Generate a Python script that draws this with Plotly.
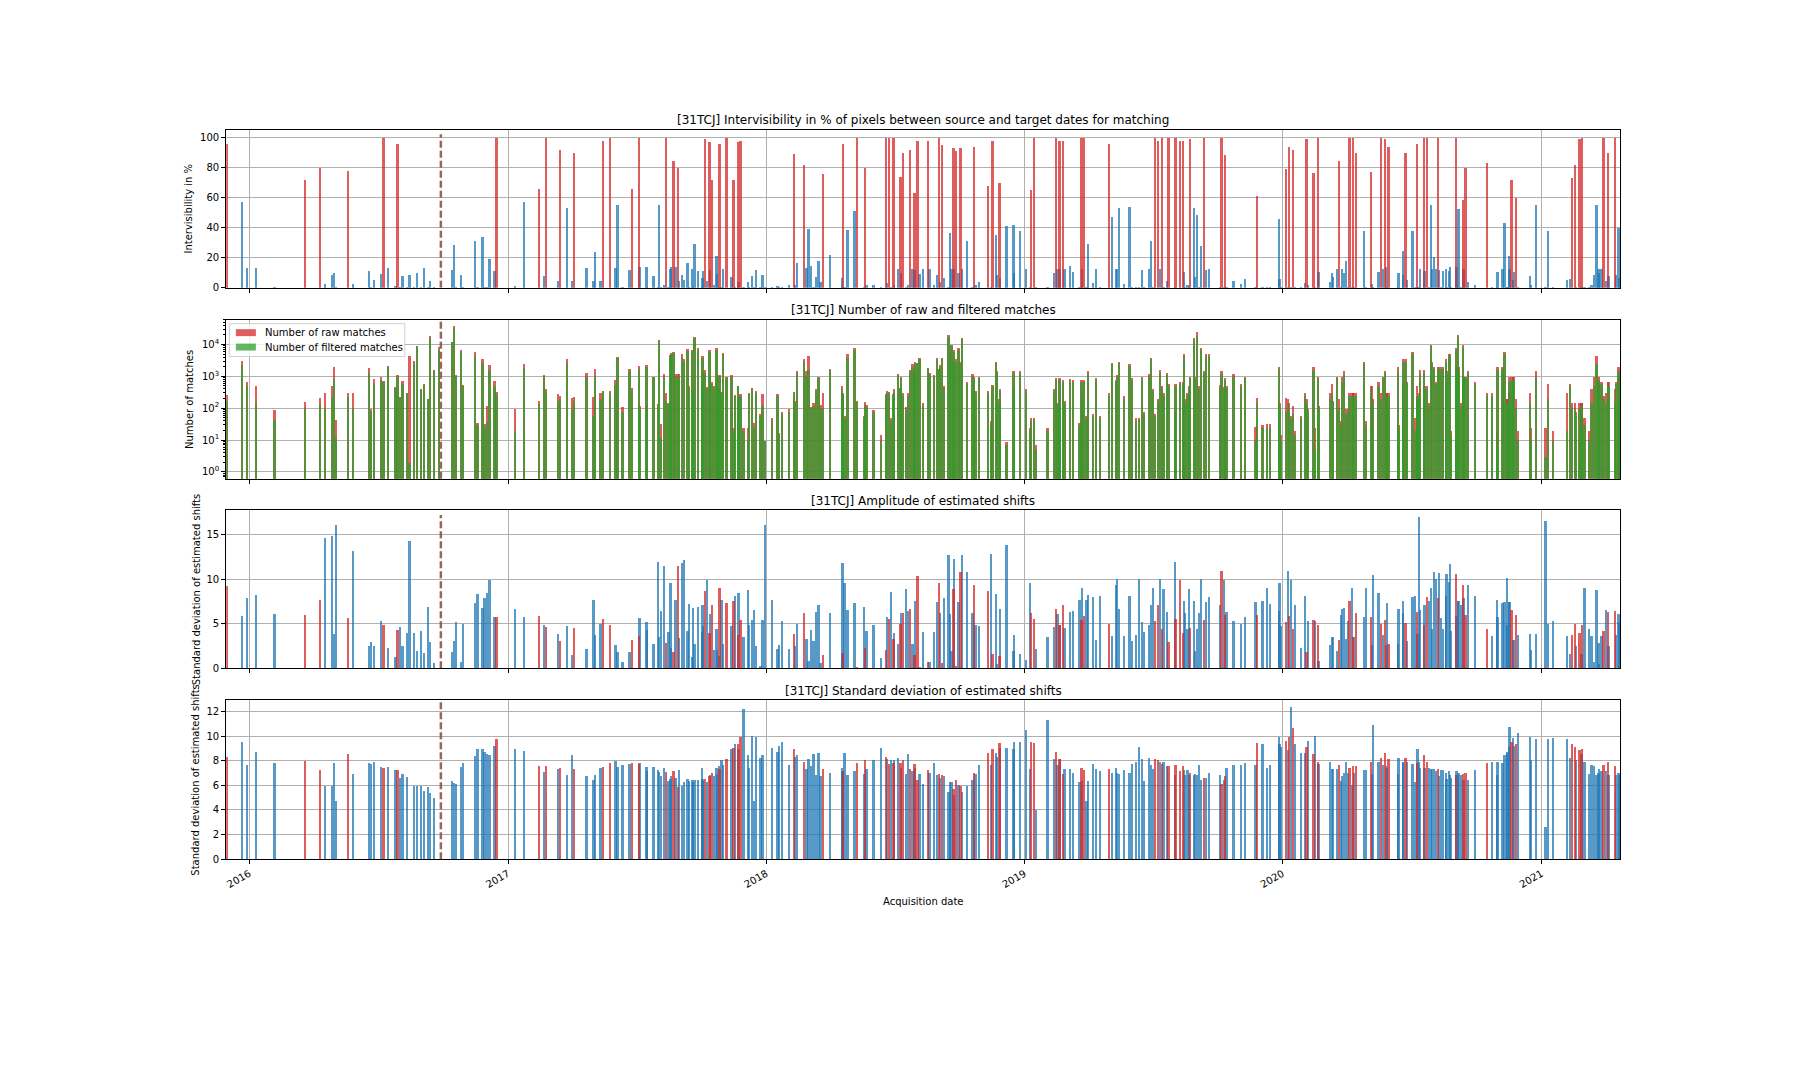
import plotly.graph_objects as go

tile = "31TCJ"
reference_date = "2016-09-28"
year_ticks = ["2016-01-01", "2017-01-01", "2018-01-01", "2019-01-01", "2020-01-01", "2021-01-01"]
year_labels = ["2016", "2017", "2018", "2019", "2020", "2021"]

dates = [
"2015-12-01","2015-12-22","2015-12-29","2016-01-11","2016-02-06","2016-03-20","2016-04-10","2016-04-17","2016-04-27","2016-04-30",
"2016-05-03","2016-05-20","2016-05-27","2016-06-19","2016-06-22","2016-06-26","2016-07-06","2016-07-09","2016-07-16","2016-07-26",
"2016-07-29","2016-08-01","2016-08-05","2016-08-11","2016-08-15","2016-08-21","2016-08-25","2016-08-31","2016-09-04","2016-09-10",
"2016-09-13","2016-09-19","2016-09-26","2016-10-14","2016-10-17","2016-10-20","2016-10-27","2016-10-30","2016-11-16","2016-11-19",
"2016-11-26","2016-11-29","2016-12-03","2016-12-06","2016-12-13","2016-12-16","2017-01-11","2017-01-24","2017-02-14","2017-02-21",
"2017-02-24","2017-03-13","2017-03-16","2017-03-26","2017-04-02","2017-04-05","2017-04-22","2017-05-02","2017-05-04","2017-05-12",
"2017-05-15","2017-05-25","2017-06-02","2017-06-05","2017-06-12","2017-06-22","2017-06-25","2017-07-05","2017-07-06","2017-07-16",
"2017-07-17","2017-07-26","2017-08-01","2017-08-03","2017-08-05","2017-08-10","2017-08-13","2017-08-16","2017-08-19","2017-08-20",
"2017-08-23","2017-08-26","2017-08-29","2017-08-31","2017-09-04","2017-09-07","2017-09-12","2017-09-14","2017-09-18","2017-09-20",
"2017-09-22","2017-09-27","2017-10-02","2017-10-03","2017-10-04","2017-10-07","2017-10-09","2017-10-13","2017-10-14","2017-10-17",
"2017-10-19","2017-10-23","2017-10-24","2017-10-26","2017-10-27","2017-10-30","2017-11-01","2017-11-06","2017-11-13","2017-11-16",
"2017-11-18","2017-11-22","2017-11-23","2017-11-26","2017-11-30","2017-12-06","2017-12-08","2017-12-12","2017-12-15","2017-12-18",
"2017-12-24","2017-12-27","2017-12-30","2018-01-09","2018-01-17","2018-01-19","2018-01-24","2018-02-02","2018-02-10","2018-02-11",
"2018-02-14","2018-02-24","2018-02-27","2018-03-02","2018-03-06","2018-03-09","2018-03-13","2018-03-16","2018-03-19","2018-03-22",
"2018-04-01","2018-04-18","2018-04-19","2018-04-20","2018-04-22","2018-04-26","2018-05-06","2018-05-10","2018-05-19","2018-05-21",
"2018-05-23","2018-06-02","2018-06-13","2018-06-20","2018-06-21","2018-06-24","2018-06-27","2018-06-30","2018-07-01","2018-07-07",
"2018-07-10","2018-07-11","2018-07-14","2018-07-18","2018-07-21","2018-07-24","2018-07-27","2018-07-30","2018-07-31","2018-08-03",
"2018-08-06","2018-08-11","2018-08-18","2018-08-20","2018-08-26","2018-08-31","2018-09-03","2018-09-04","2018-09-07","2018-09-10",
"2018-09-16","2018-09-18","2018-09-20","2018-09-23","2018-09-24","2018-09-27","2018-09-30","2018-10-03","2018-10-05","2018-10-12",
"2018-10-20","2018-10-22","2018-10-24","2018-10-29","2018-11-11","2018-11-15","2018-11-17","2018-11-22","2018-11-24","2018-11-27",
"2018-11-28","2018-12-07","2018-12-17","2018-12-18","2018-12-26","2019-01-03","2019-01-09","2019-01-11","2019-01-15","2019-01-18",
"2019-02-03","2019-02-12","2019-02-15","2019-02-17","2019-02-20","2019-02-21","2019-02-25","2019-02-27","2019-03-07","2019-03-11",
"2019-03-20","2019-03-23","2019-03-24","2019-03-27","2019-03-30","2019-04-01","2019-04-08","2019-04-12","2019-04-18","2019-05-01",
"2019-05-05","2019-05-11","2019-05-12","2019-05-15","2019-05-22","2019-05-30","2019-06-02","2019-06-08","2019-06-12","2019-06-16",
"2019-06-19","2019-06-26","2019-06-29","2019-07-02","2019-07-05","2019-07-09","2019-07-12","2019-07-15","2019-07-17","2019-07-22",
"2019-07-24","2019-08-02","2019-08-03","2019-08-09","2019-08-13","2019-08-15","2019-08-16","2019-08-20","2019-08-22","2019-08-23",
"2019-08-29","2019-08-30","2019-09-02","2019-09-05","2019-09-08","2019-09-12","2019-09-15","2019-09-19","2019-10-05","2019-10-07",
"2019-10-10","2019-10-12","2019-10-14","2019-10-24","2019-11-03","2019-11-09","2019-11-24","2019-11-26","2019-12-04","2019-12-10",
"2019-12-14","2019-12-27","2019-12-28","2019-12-30","2020-01-06","2020-01-09","2020-01-10","2020-01-13","2020-01-16","2020-01-19",
"2020-01-27","2020-02-02","2020-02-04","2020-02-06","2020-02-14","2020-02-16","2020-02-20","2020-02-21","2020-03-08","2020-03-11",
"2020-03-12","2020-03-18","2020-03-21","2020-03-24","2020-03-25","2020-03-28","2020-03-31","2020-04-03","2020-04-05","2020-04-08",
"2020-04-10","2020-04-11","2020-04-14","2020-04-25","2020-04-28","2020-05-05","2020-05-07","2020-05-08","2020-05-16","2020-05-19",
"2020-05-22","2020-05-25","2020-05-26","2020-05-28","2020-05-30","2020-06-12","2020-06-13","2020-06-19","2020-06-20","2020-06-23",
"2020-06-25","2020-07-03","2020-07-06","2020-07-09","2020-07-10","2020-07-12","2020-07-13","2020-07-19","2020-07-20","2020-07-23",
"2020-07-26","2020-07-29","2020-07-30","2020-08-02","2020-08-05","2020-08-08","2020-08-09","2020-08-12","2020-08-15","2020-08-19",
"2020-08-20","2020-08-23","2020-08-25","2020-08-26","2020-09-02","2020-09-03","2020-09-05","2020-09-06","2020-09-09","2020-09-12",
"2020-09-13","2020-09-16","2020-09-19","2020-09-29","2020-10-16","2020-10-23","2020-10-30","2020-10-31","2020-11-07","2020-11-10",
"2020-11-13","2020-11-14","2020-11-16","2020-11-17","2020-11-20","2020-11-22","2020-11-23","2020-11-26","2020-11-29","2020-12-16",
"2020-12-17","2020-12-25","2021-01-07","2021-01-10","2021-01-18","2021-02-06","2021-02-11","2021-02-13","2021-02-18","2021-02-19",
"2021-02-24","2021-02-27","2021-02-28","2021-03-03","2021-03-09","2021-03-13","2021-03-16","2021-03-20","2021-03-23","2021-03-24",
"2021-03-27","2021-03-30","2021-04-02","2021-04-05","2021-04-06","2021-04-15","2021-04-17","2021-04-20","2021-04-21"]

# 1 = pair kept for matching (red), 0 = rejected (blue)
valid = [
1,0,0,0,0,1,1,0,0,0, 0,1,0,0,0,0,0,1,0,0, 1,0,0,0,0,0,0,0,0,0, 0,0,0,0,0,0,0,0,0,0,
0,0,0,0,0,1,0,0,1,0, 1,0,1,0,0,1,0,0,0,0, 1,1,0,0,0,0,1,1,0,0, 0,0,0,0,0,0,1,0,0,0,
1,0,1,0,0,0,0,0,0,0, 0,0,0,0,0,1,0,1,0,1, 0,0,0,0,1,0,0,1,0,1, 0,1,0,1,0,0,0,0,0,0,
0,0,0,0,0,0,0,0,1,0, 0,1,0,0,0,0,0,0,0,1, 0,0,0,1,0,0,0,1,0,1, 0,0,0,1,0,1,0,1,0,0,
1,0,1,0,0,1,0,1,0,1, 0,0,1,0,0,0,1,0,1,0, 0,0,0,1,0,1,0,1,0,0, 0,1,0,0,1,0,1,0,0,1,
0,0,0,0,0,0,0,1,1,0, 0,0,1,0,1,0,1,0,0,0, 0,1,0,1,0,0,0,0,0,1, 0,0,0,0,0,0,0,0,0,0,
0,0,0,0,1,1,0,1,0,0, 1,0,1,1,1,0,0,0,0,1, 0,0,0,0,0,1,0,0,0,1, 0,1,0,0,0,0,0,1,0,0,
0,0,0,0,1,0,1,0,1,0, 0,0,1,0,1,0,1,0,0,0, 0,0,1,0,0,0,0,0,1,0, 1,0,1,0,0,1,0,0,0,1,
0,1,0,0,1,0,0,0,0,1, 0,0,0,1,0,0,0,1,0,1, 0,0,0,0,0,1,0,0,0,0, 0,0,0,0,1,0,0,0,0,1,
0,1,0,0,1,0,0,0,0,0, 0,0,0,0,1,0,0,1,0,0, 0,0,0,0,0,0,0,1,1,0, 1,0,1,0,0,0,0,0,0,0,
0,1,0,1,0,1,0,0,0]

intervisibility = [
95.6,57.5,13.4,13.4,1,72,80,3,9,10, 1,78,3,11.4,1,5.5,9.5,100,13.4,1.5,
96,1,8,1,8.8,1,10,1,13.4,0.5, 5,1,None,12,28.5,1,8.8,1,31,0.5,
34,1,1,19.5,11.4,100,1.5,57.5,66,8, 100,5,92,53.5,5,90,13.4,4.4,24,4.4,
98,100,13.4,55.5,1,12,65.5,100,14,14, 1,8,1,55,1,2.2,100,1,12.8,14,
84.5,14,80,4.4,8.8,5.5,17,1,13,1, 29,11.4,1,6.5,11.4,99,5,97,12,71.5,
2,21,9.5,1,96,1,13,100,7.5,71.5, 1,97,4,97.5,1,4,1,8,1,12,
1,9,0.5,1,1.5,0.5,0.5,2,89,2, 16.5,81.5,13.5,39.5,14.5,1,7.5,18,4,76,
22,6.5,1,95.5,1,38.5,51,100,1,80, 2,2,1,100,3.5,100,1,100,2,13,
74,10,90,1,2,92,12.5,63,12,98, 9.5,12.5,98,12.5,2,9,100,4,95,7,
1,36.5,12.5,93,12.5,91,10,93,12.5,31, 1,94,2,4,68,1,98,35,9,69.5,
7,41.5,42,10,38,12.5,1,65,100,1, 1,10,100,12.5,98,12.5,98,12.5,14.5,11,
1,100,12.5,100,1,29,3.5,12.5,1,95.5, 47,12.5,12.5,53,2.5,54,1,1,1,12,
1,12.5,31.5,1,100,97.5,12.5,100,1,4.5, 100,1,100,98,98,11,1,2,1,99,
53,7.5,48.5,1,28,100,12,12.5,1,100, 1,88.5,1,5,2.5,6,0.5,61.5,1,1,
1,46,6,1,79,1,94,1,91.5,1, 1,3.5,99,2,76.5,1,100,11,4,10,
7.5,12.5,84.5,1,13,10,18,1,100,1, 100,1,90,38,1,77,2.5,1,11,100,
12.5,99,14,1,94,1,10,24.5,9,90, 5.5,38,1,96,1,1,12.5,100,11.5,100,
1,55,12.5,20.5,12.5,100,12,1,11.5,12.5, 1,11.5,14,1,100,14,1,52.5,1,58.5,
12.5,80,4,2,83,1,1,11,13,43.5, 1,1,21.5,13,72,5.5,10.5,60,1,8,
2,55.5,1,38,1,5.5,6,73,81.5,1, 99,1,100,1,1,2,9,55,13,10,
13,100,4.5,90,8,100,9,40,6.5]

raw_matches = [
260,3200,700,500,90,160,210,300,500,2000, 45,300,300,1900,100,830,950,750,2100,490,
1170,230,760,320,4600,3200,9500,420,580,200, 19000,1600,8500,12000,38000,1100,6800,540,5800,35,
3500,33,120,2400,720,330,95,2600,180,1100, 400,280,250,3500,210,225,1300,230,1700,320,
370,370,780,4200,110,1800,430,2100,125,2400, 128,1000,140,14500,33,1200,300,150,4800,5500,
6000,1200,1200,1200,5000,3500,7400,530,7000,360, 17800,8000,520,4500,1300,1600,480,7000,1000,700,
510,8000,1000,400,1100,340,5500,1000,1100,25, 270,530,230,280,25,25,300,430,35,350,
70,290,10,50,280,17,80,96,330,180, 1500,3500,1500,4500,110,150,400,1000,130,300,
1800,500,300,260,60,5000,8000,180,60,160, 130,90,15,280,350,330,50,280,400,1200,
450,1000,320,110,300,1600,2500,1400,3000,2800, 4000,150,1900,1300,1100,3800,1800,2300,4000,500,
20000,5500,10000,3000,6800,3500,8000,3000,17000,700, 1200,1000,350,1000,350,40,550,3000,1500,200,
400,9,1500,450,1500,400,25,50,50,7, 25,400,900,150,900,200,800,170,850,800,
35,800,200,800,60,1500,70,900,60,300, 2800,800,1100,3000,250,2500,900,50,50,950,
80,1200,4000,400,70,200,1600,530,300,1300, 600,72,600,700,700,5000,200,300,500,1000,
17000,1000,25000,500,8000,1500,5000,5000,550,1500, 470,900,500,1200,600,1000,26,210,30,33,
33,2000,150,15,210,200,150,60,120,20, 58,300,200,100,2000,25,1000,120,300,600,
180,1000,200,40,1000,1500,100,100,300,300, 300,300,300,3000,40,500,500,200,700,300,
1000,1500,300,300,300,2000,30,600,3500,3500, 700,6000,50,500,200,300,1600,1600,500,500,
150,10000,3000,2000,700,2000,2000,2000,2000,3500, 1500,5000,5000,20,8000,2000,20000,2000,150,10000,
1000,1000,1500,700,300,300,20,2000,2000,6000, 200,200,1000,300,1000,1000,1000,200,20,300,
25,1500,25,600,20,300,600,150,150,80, 150,150,150,50,20,400,1000,4500,1000,700,
700,250,300,700,700,400,700,2000,1000]

filtered_matches = [
180,2400,500,160,45,100,140,100,230,850, 12,230,100,1300,80,600,800,680,2000,430,
1000,210,600,300,2,2700,9000,400,570,200, 16000,1500,7000,12000,35000,1050,6000,510,4600,30,
2800,25,37,1650,510,260,20,1900,135,1000, 370,180,200,2800,90,170,1000,60,1050,200,
370,300,560,3800,80,1500,380,1800,100,2000, 100,950,120,13500,12,1000,180,140,4500,5000,
5500,1000,1000,1000,4000,3000,6500,400,6500,300, 16000,7000,450,4000,1100,1300,400,6000,900,600,
450,7000,900,350,1000,300,5000,900,1000,18, 250,500,200,250,20,10,280,400,25,300,
60,120,10,40,250,15,70,80,300,150, 1300,3000,1000,1600,100,120,350,900,100,100,
1600,400,250,40,50,4000,7000,160,50,130, 110,80,10,250,300,300,40,250,350,1100,
400,900,250,90,250,1400,2000,1200,2700,2500, 3500,120,1700,1100,1000,3300,1600,2000,3500,450,
18000,5000,9000,2700,6000,3000,7000,2600,15000,600, 1000,900,300,900,300,30,500,2700,1300,150,
350,7,1300,400,1300,350,20,40,45,5, 20,350,800,120,800,170,700,150,750,700,
30,700,170,700,50,1300,60,800,50,250, 2500,700,1000,2700,200,2200,800,40,45,850,
70,1000,3500,350,60,170,1300,450,250,1100, 500,50,500,600,600,4500,150,250,400,900,
14500,800,19000,400,7000,1300,4500,4500,450,1200, 400,800,450,1000,500,900,10,150,25,25,
25,1800,120,10,80,150,80,50,70,15, 50,250,150,80,1600,5,900,100,200,300,
150,900,100,30,700,1100,70,80,250,250, 200,250,250,2500,30,400,20,150,500,200,
900,1300,100,250,250,1500,25,500,3000,3000, 600,5000,20,250,150,250,1200,1300,400,400,
120,9000,2500,1800,600,1800,1800,1800,1800,3000, 1200,4500,4500,15,7000,1500,18000,1500,120,8500,
900,900,1300,600,250,250,7,1600,1800,5000, 150,150,700,200,800,800,800,100,10,150,
10,1000,3,200,10,20,500,100,100,60, 100,120,20,30,10,150,500,2500,800,400,
600,200,150,500,500,150,600,1500,500]

amplitude = [
9.15,5.8,7.8,8.15,6.05,5.9,7.6,14.6,14.8,3.8, 16.0,5.6,13.15,2.45,2.9,2.4,5.25,4.8,2.25,1.25,
4.25,4.6,2.4,3.9,14.25,3.9,1.9,4.15,1.7,6.8, 2.9,0.5,None,1.8,3.05,5.15,0.7,4.95,7.25,8.25,
6.7,7.8,8.35,9.8,5.7,5.7,6.6,5.7,5.8,4.8, 4.6,3.8,3.05,4.7,1.45,4.5,2.15,7.6,3.7,4.95,
5.5,4.8,2.6,1.8,0.7,1.8,3.1,3.6,5.6,5.15, 4.2,2.7,11.9,3.5,6.4,11.45,2.8,4.0,9.5,2.25,
1.8,7.6,11.45,3.3,11.8,12.1,4.1,7.2,1.2,6.7, 2.7,6.8,4.0,7.0,4.7,8.6,9.8,3.9,6.0,7.0,
2.0,4.4,2.0,1.3,8.9,7.6,2.7,7.3,4.7,7.5, 8.1,3.7,8.4,5.4,3.5,8.7,4.8,5.4,6.5,2.4,
0.2,5.4,16.0,7.6,2.1,2.6,5.3,2.1,3.8,2.4, 4.9,6.2,3.2,0.8,4.2,3.0,6.3,7.1,0.5,1.4,
6.1,1.7,11.7,1.7,9.5,6.5,7.3,0.1,6.8,2.2, 4.1,4.8,1.1,2.0,5.7,5.5,8.5,3.2,3.9,2.7,
4.9,6.2,6.2,8.8,6.4,6.6,2.7,1.4,7.5,10.3, 0.1,4.0,0.7,0.7,4.0,7.4,9.5,6.1,0.5,7.8,
12.7,6.0,1.9,8.8,12.2,0.2,7.4,10.7,12.6,10.8, 6.2,9.3,4.8,4.7,8.6,12.8,1.5,8.3,0.4,1.3,
6.6,13.8,1.9,3.7,1.5,0.9,9.5,6.1,5.5,2.1, 3.4,4.6,6.6,6.0,4.8,4.8,7.0,4.5,6.3,6.4,
7.6,5.4,8.9,5.8,7.6,8.2,7.9,3.1,8.0,4.9, 3.6,9.3,10.0,6.6,3.6,8.0,3.0,3.7,10.0,5.1,
4.0,4.8,7.1,9.0,5.3,7.0,10.0,4.4,8.8,6.3, 2.9,11.9,5.5,9.9,3.9,7.5,6.1,4.4,8.8,4.5,
7.5,1.9,4.4,6.1,10.0,5.4,7.4,7.9,7.0,10.9, 9.9,5.9,6.3,5.3,4.9,5.7,7.4,5.9,7.5,9.0,
7.2,6.4,9.5,4.7,5.1,10.9,5.8,9.8,4.3,7.0, 2.2,8.0,1.8,5.3,5.4,5.3,4.8,0.8,2.6,3.5,
3.4,1.9,3.1,5.9,6.6,6.7,3.2,5.2,7.5,9.0, 3.5,3.5,6.2,5.7,9.0,5.7,2.6,10.4,8.4,4.9,
3.7,5.4,2.6,7.3,2.7,2.7,6.6,6.1,7.5,5.0, 3.0,7.9,8.0,6.3,3.8,16.9,6.5,4.8,7.1,7.9,
7.5,9.0,4.3,10.7,10.0,7.8,10.6,5.6,4.3,8.0, 10.5,9.6,11.6,4.1,10.5,5.8,7.5,7.5,7.1,9.3,
7.8,5.9,9.3,8.0,4.3,3.6,7.6,5.7,7.3,7.4, 10.1,4.8,7.4,7.4,6.5,3.1,3.1,5.9,3.7,3.8,
2.0,3.8,16.5,4.9,5.2,3.6,1.6,3.7,4.9,2.4, 3.9,1.5,4.8,9.0,4.3,3.6,0.6,8.7,2.8,0.4,
3.6,4.1,6.5,6.3,2.5,6.4,3.7,6.0,5.1]

std_dev = [
8.25,9.45,7.6,8.65,7.8,7.95,7.2,5.95,5.95,7.8, 4.7,8.5,6.9,7.8,7.7,7.85,7.45,7.35,7.45,7.2,
7.25,6.6,6.9,6.65,None,5.95,5.95,5.95,5.5,5.85, 5.35,4.95,None,6.3,6.15,6.05,7.45,7.8,8.35,8.95,
8.9,8.65,8.55,8.4,9.15,9.75,8.95,8.75,7.5,7.05, 7.5,7.3,7.35,6.8,8.4,7.3,6.7,6.4,6.8,7.35,
7.45,7.75,7.95,7.45,7.6,7.7,7.75,7.7,7.75,7.45, 7.1,7.45,7.2,7.05,6.7,7.35,7.05,6.3,6.5,6.7,
7.1,6.55,5.85,7.2,5.95,6.2,6.5,6.35,6.4,6.2, 6.4,6.4,7.4,6.5,6.3,6.5,6.25,6.75,6.8,7.0,
6.7,7.4,6.9,7.5,7.3,8.0,7.6,8.1,8.9,9.0, 9.3,9.3,8.9,9.9,12.2,8.4,7.4,10.0,4.7,9.9,
8.2,8.4,None,9.0,8.7,9.2,9.5,7.6,8.9,8.3, 8.4,7.9,7.3,8.1,7.5,8.5,6.8,8.6,6.7,7.3,
7.0,7.4,7.1,7.1,8.6,6.8,7.1,7.8,6.9,8.0, 7.3,8.0,9.0,8.3,8.1,7.7,8.0,7.8,8.0,8.2,
7.8,7.4,8.0,6.9,8.5,7.3,7.1,7.7,7.4,6.4, 6.9,6.1,7.2,7.0,7.8,6.8,6.9,6.6,6.8,6.7,
5.4,6.2,6.2,5.7,5.2,6.4,6.0,5.9,5.4,5.95, 6.4,7.0,6.9,7.6,8.6,7.6,8.9,8.6,8.3,9.4,
9.0,9.0,8.9,9.5,9.5,10.5,7.3,9.5,9.4,4.0, 11.3,8.1,8.7,7.6,8.1,8.1,6.9,7.3,7.3,7.0,
6.2,7.4,6.3,7.2,4.7,6.3,7.7,7.3,7.1,7.3, 7.0,7.4,7.0,6.9,7.2,7.0,7.7,7.9,9.1,8.1,
6.3,8.2,7.6,7.3,8.1,8.0,7.9,7.7,7.9,7.5, 7.5,6.8,7.6,7.1,7.5,7.2,6.8,7.2,6.8,7.0,
6.8,6.9,6.8,7.6,6.4,6.6,6.6,7.0,6.8,6.1, 6.4,6.7,7.4,7.6,7.6,7.8,7.6,9.4,9.3,7.4,
7.6,9.9,9.3,9.1,9.6,8.8,9.9,12.3,10.6,9.3, 8.6,8.6,9.1,9.6,8.5,10.0,7.9,7.7,7.9,7.3,
7.3,7.3,7.6,6.3,6.7,7.0,7.9,7.0,7.4,6.0, 7.5,7.0,7.5,7.2,7.2,7.9,6.9,10.9,7.9,8.2,
7.6,8.6,7.5,7.4,8.1,6.9,8.2,7.9,7.8,8.2, 7.9,7.7,6.2,7.8,8.9,7.9,7.4,8.4,7.4,7.9,
7.4,7.3,7.3,7.3,7.1,7.3,6.7,7.2,7.2,7.0, 6.5,7.1,6.8,6.6,6.8,7.1,6.8,7.0,6.8,6.9,
6.4,7.0,6.4,7.2,7.8,7.9,6.8,7.9,7.8,8.4, 8.6,8.7,9.1,10.7,9.5,9.8,9.2,9.3,10.2,9.9,
8.0,9.7,2.6,9.7,9.8,9.7,8.2,9.3,9.1,8.0, 8.8,8.5,8.9,7.9,6.9,7.6,7.5,6.8,7.0,7.3,
7.1,7.6,7.1,7.9,6.8,7.5,6.8,7.0,6.8]

n = len(dates)
for lst in (valid, intervisibility, raw_matches, filtered_matches, amplitude, std_dev):
    assert len(lst) == n, (len(lst), n)

# ---------------- styling ----------------
RED = "rgba(214,39,40,0.75)"
BLUE = "rgba(31,119,180,0.75)"
GREEN = "rgba(44,160,44,0.75)"
BROWN = "rgba(140,86,75,0.9)"
GRID = "#b0b0b0"
FONT = "DejaVu Sans"
BAR_W = 3.2 * 86400000

# page body has an 8px margin: figure occupies screen pixels 8..1792 / 8..1072
OFF = 8
W, H = 1800 - 2 * OFF, 1080 - 2 * OFF


def px(sx):
    return (sx - OFF) / W


def py(sy):
    return 1 - (sy - OFF) / H


x_dom = [px(225.3), px(1620.3)]
panels_px = [(130.3, 289.3), (321.3, 481.3), (513.3, 672.0), (704.3, 864.0)]
y_doms = [[py(b), py(t)] for t, b in panels_px]
x_range = ["2015-11-29 12:00", "2021-04-22 14:00"]


def subset(values, flag):
    xs, ys = [], []
    for d, v, f in zip(dates, values, valid):
        if f == flag and v is not None:
            xs.append(d)
            ys.append(v)
    return xs, ys


fig = go.Figure()

# Panels 1, 3, 4 : red = valid, blue = rejected
for values, ax in ((intervisibility, "1"), (amplitude, "3"), (std_dev, "4")):
    xa = "x" if ax == "1" else "x" + ax
    ya = "y" if ax == "1" else "y" + ax
    for flag, col in ((0, BLUE), (1, RED)):
        xs, ys = subset(values, flag)
        fig.add_trace(go.Bar(x=xs, y=ys, width=BAR_W, marker=dict(color=col, line=dict(width=0)),
                             xaxis=xa, yaxis=ya, showlegend=False))

# Panel 2 : raw and filtered matches (log)
rx = [d for d, v in zip(dates, raw_matches) if v is not None]
ry = [v for v in raw_matches if v is not None]
fx = [d for d, v in zip(dates, filtered_matches) if v is not None]
fy = [v for v in filtered_matches if v is not None]
fig.add_trace(go.Bar(x=rx, y=ry, width=BAR_W, marker=dict(color=RED, line=dict(width=0)),
                     xaxis="x2", yaxis="y2", name="Number of raw matches", showlegend=False))
fig.add_trace(go.Bar(x=fx, y=fy, width=BAR_W, marker=dict(color=GREEN, line=dict(width=0)),
                     xaxis="x2", yaxis="y2", name="Number of filtered matches", showlegend=False))

tickfont = dict(family=FONT, size=10, color="#000000")


def xaxis(i):
    return dict(type="date", domain=x_dom, range=x_range, anchor="y" if i == 1 else "y%d" % i,
                tickmode="array", tickvals=year_ticks, ticktext=year_labels,
                showticklabels=(i == 4), tickangle=-30, tickfont=tickfont,
                ticks="outside", ticklen=4, tickcolor="#000", tickwidth=1,
                showgrid=True, gridcolor=GRID, gridwidth=0.8,
                showline=True, linecolor="#000", linewidth=1, mirror=True, zeroline=False)


def yaxis(i, **kw):
    d = dict(domain=y_doms[i - 1], anchor="x" if i == 1 else "x%d" % i, tickfont=tickfont,
             ticks="outside", ticklen=4, tickcolor="#000", tickwidth=1,
             showgrid=True, gridcolor=GRID, gridwidth=0.8,
             showline=True, linecolor="#000", linewidth=1, mirror=True, zeroline=False)
    d.update(kw)
    return d


fig.update_layout(
    width=W, height=H, margin=dict(l=0, r=0, t=0, b=0),
    paper_bgcolor="white", plot_bgcolor="white",
    barmode="overlay", bargap=0, showlegend=False,
    font=dict(family=FONT, size=10, color="#000"),
    xaxis=xaxis(1), xaxis2=xaxis(2), xaxis3=xaxis(3), xaxis4=xaxis(4),
    yaxis=yaxis(1, range=[0, 105], tickmode="array", tickvals=[0, 20, 40, 60, 80, 100]),
    yaxis2=yaxis(2, type="log", range=[-0.21, 4.78], tickmode="array",
                 tickvals=[1, 10, 100, 1000, 10000],
                 ticktext=["10<sup>0</sup>", "10<sup>1</sup>", "10<sup>2</sup>", "10<sup>3</sup>", "10<sup>4</sup>"],
                 minor=dict(ticks="outside", ticklen=2, tickcolor="#000", showgrid=False,
                            tickmode="array",
                            tickvals=[m * 10 ** e for e in range(-1, 5) for m in range(2, 10)])),
    yaxis3=yaxis(3, range=[0, 17.7], tickmode="array", tickvals=[0, 5, 10, 15]),
    yaxis4=yaxis(4, range=[0, 12.9], tickmode="array", tickvals=[0, 2, 4, 6, 8, 10, 12]),
)

titles = [
    "[%s] Intervisibility in %% of pixels between source and target dates for matching" % tile,
    "[%s] Number of raw and filtered matches" % tile,
    "[%s] Amplitude of estimated shifts" % tile,
    "[%s] Standard deviation of estimated shifts" % tile,
]
ylabels = ["Intervisibility in %", "Number of matches",
           "Standard deviation of estimated shifts", "Standard deviation of estimated shifts"]
ylabel_x = [188, 188, 195, 195]
xc = (x_dom[0] + x_dom[1]) / 2
for i, (t, b) in enumerate(panels_px):
    fig.add_annotation(text=titles[i], x=xc, y=py(t - 0.5), xref="paper", yref="paper",
                       xanchor="center", yanchor="bottom", showarrow=False,
                       font=dict(family=FONT, size=12, color="#000"))
    fig.add_annotation(text=ylabels[i], x=px(ylabel_x[i]), y=py((t + b) / 2), xref="paper", yref="paper",
                       xanchor="center", yanchor="middle", textangle=-90, showarrow=False,
                       font=dict(family=FONT, size=10, color="#000"))
fig.add_annotation(text="Acquisition date", x=xc, y=py(907), xref="paper", yref="paper",
                   xanchor="center", yanchor="middle", showarrow=False,
                   font=dict(family=FONT, size=10, color="#000"))

# manual legend for panel 2 (matplotlib-like box)
legend_items = [("Number of raw matches", RED), ("Number of filtered matches", GREEN)]
fig.add_shape(type="rect", xref="paper", yref="paper", x0=px(228.5), x1=px(404), y0=py(358.5), y1=py(325.5),
              line=dict(color="#d0d0d0", width=1), fillcolor="rgba(255,255,255,0.8)", layer="above")
for k, (label, col) in enumerate(legend_items):
    cy = 334.5 + 14.5 * k
    fig.add_shape(type="rect", xref="paper", yref="paper", x0=px(235), x1=px(255), y0=py(cy + 3.5), y1=py(cy - 3.5),
                  line=dict(width=0), fillcolor=col, layer="above")
    fig.add_annotation(text=label, x=px(262), y=py(cy), xref="paper", yref="paper",
                       xanchor="left", yanchor="middle", showarrow=False,
                       font=dict(family=FONT, size=10, color="#000"))

# reference date marker
line = dict(color=BROWN, width=2.5, dash="7px,3px")
fig.add_shape(type="line", xref="x", yref="y", x0=reference_date, x1=reference_date, y0=0, y1=102, line=line)
fig.add_shape(type="line", xref="x2", yref="y2 domain", x0=reference_date, x1=reference_date, y0=0, y1=1, line=line)
fig.add_shape(type="line", xref="x3", yref="y3", x0=reference_date, x1=reference_date, y0=0, y1=17.2, line=line)
fig.add_shape(type="line", xref="x4", yref="y4 domain", x0=reference_date, x1=reference_date, y0=0, y1=1, line=line)

fig.write_html("out.html")
